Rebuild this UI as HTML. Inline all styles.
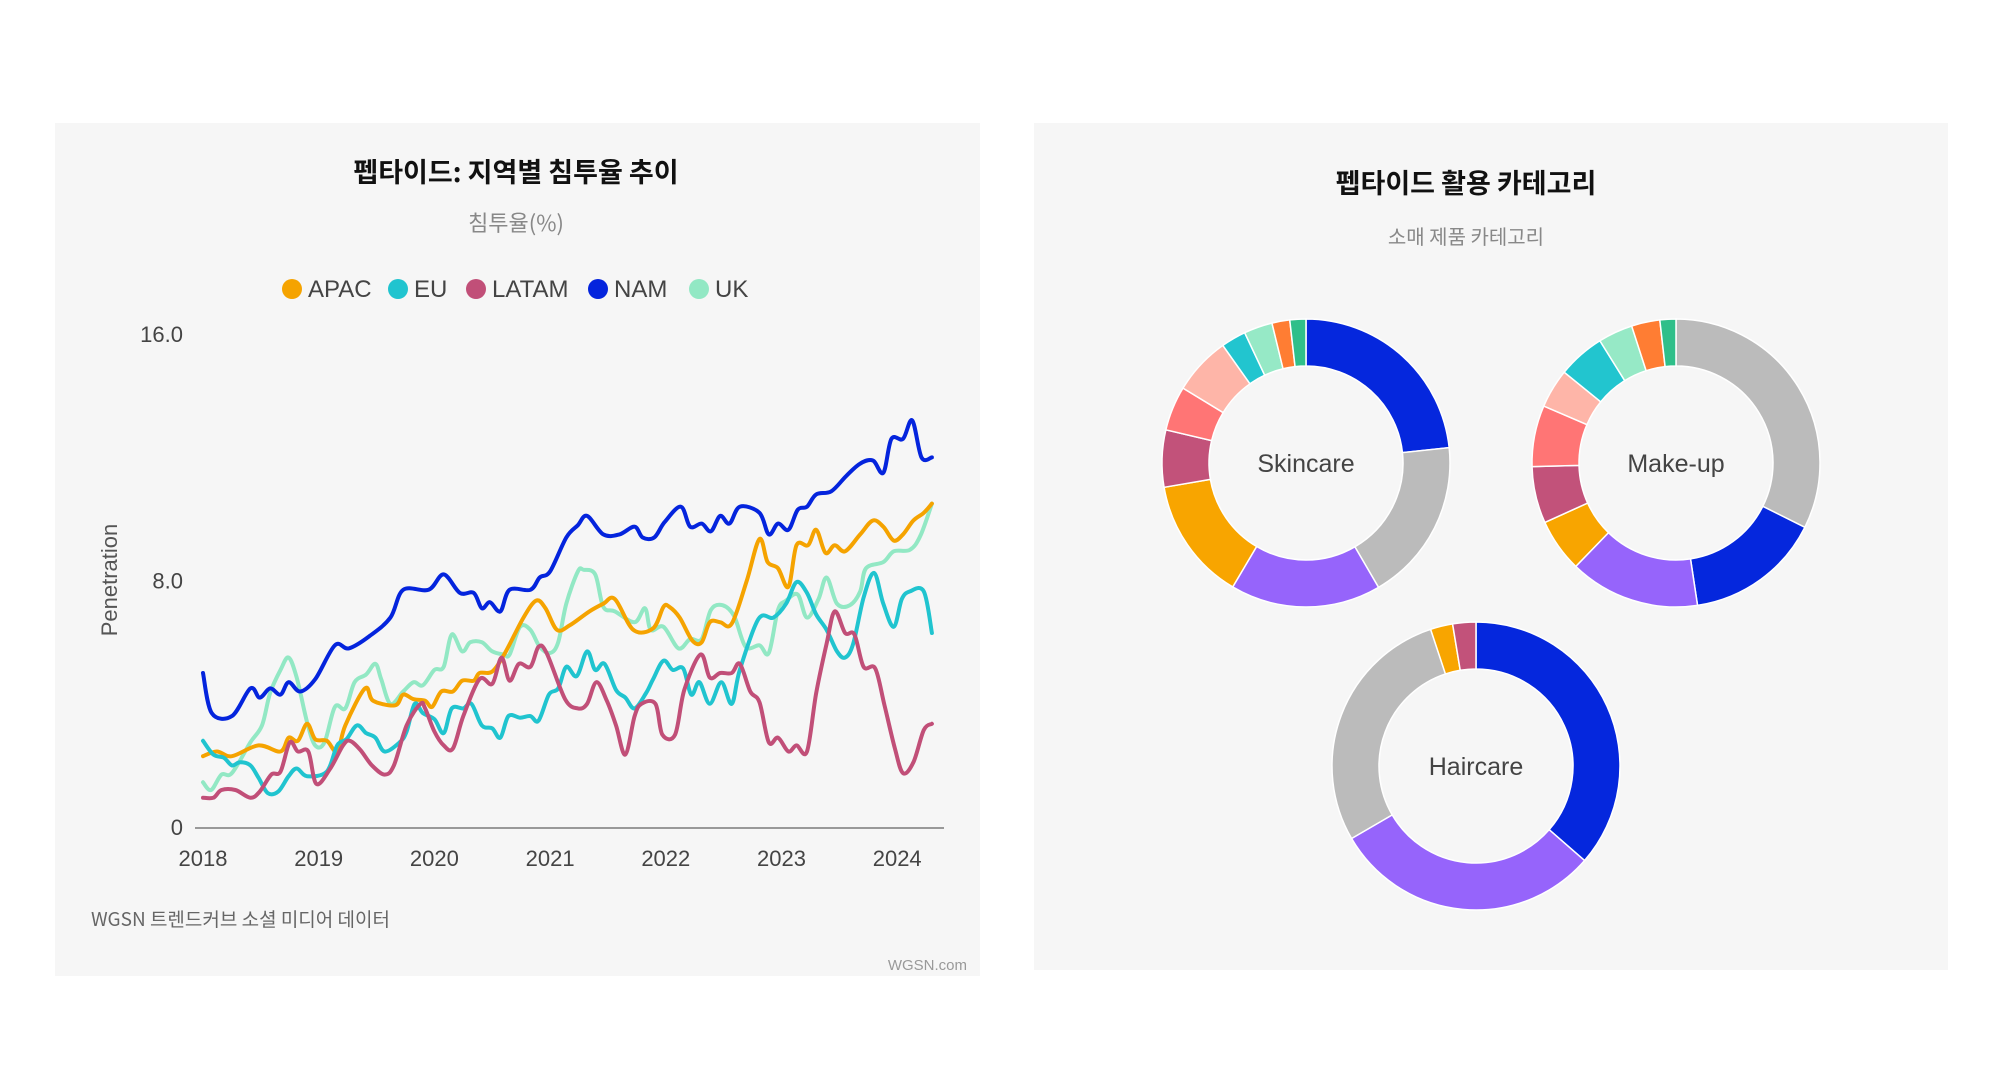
<!DOCTYPE html>
<html><head><meta charset="utf-8"><style>
body{margin:0;width:2006px;height:1072px;background:#fff;overflow:hidden;font-family:"Liberation Sans","Noto Sans CJK KR",sans-serif;}
.panel{position:absolute;background:#f6f6f6;}
</style></head><body>
<div class="panel" style="left:55px;top:123px;width:925px;height:853px;"></div>
<div class="panel" style="left:1034px;top:123px;width:914px;height:847px;"></div>
<svg id="svg" width="2006" height="1072" style="position:absolute;left:0;top:0" font-family="Liberation Sans, Noto Sans CJK KR, sans-serif">
<text x="516" y="182" text-anchor="middle" font-size="27" font-weight="bold" fill="#111" font-family="Noto Sans CJK KR, sans-serif">펩타이드: 지역별 침투율 추이</text>
<text x="516" y="231" text-anchor="middle" font-size="22" fill="#888" font-family="Noto Sans CJK KR, sans-serif">침투율(%)</text>
<g id="legend"></g>
<g id="axes"></g>
<g id="lines"></g>
<text transform="translate(117,580) rotate(-90)" text-anchor="middle" font-size="22" fill="#555">Penetration</text>
<text x="91" y="926" font-size="19" fill="#666" font-family="Noto Sans CJK KR, sans-serif">WGSN 트렌드커브 소셜 미디어 데이터</text>
<text x="967" y="970" text-anchor="end" font-size="15" fill="#999">WGSN.com</text>
<text x="1466" y="193" text-anchor="middle" font-size="27" font-weight="bold" fill="#111" font-family="Noto Sans CJK KR, sans-serif">펩타이드 활용 카테고리</text>
<text x="1466" y="244" text-anchor="middle" font-size="20" fill="#888" font-family="Noto Sans CJK KR, sans-serif">소매 제품 카테고리</text>
<g id="donuts"></g>
</svg>
<script>
const seriesNames=["APAC","EU","LATAM","NAM","UK"];
const seriesColors=["#f5a300","#20c4cf","#c14f78","#0424dd","#92e8c4"];
const yTicks=[0,8,16];
const yTickLabels=["0","8.0","16.0"];
const xTicks=[2018,2019,2020,2021,2022,2023,2024];
const apacT=[2018.0,2018.12,2018.25,2018.48,2018.67,2018.74,2018.82,2018.9,2018.97,2019.07,2019.16,2019.23,2019.4,2019.47,2019.66,2019.73,2019.82,2019.92,2019.98,2020.06,2020.16,2020.24,2020.34,2020.39,2020.5,2020.61,2020.77,2020.88,2020.96,2021.06,2021.17,2021.34,2021.46,2021.56,2021.72,2021.89,2021.98,2022.03,2022.12,2022.23,2022.31,2022.38,2022.47,2022.57,2022.7,2022.81,2022.88,2022.97,2023.06,2023.13,2023.23,2023.3,2023.38,2023.46,2023.55,2023.68,2023.79,2023.88,2023.97,2024.05,2024.14,2024.23,2024.3];
const apacV=[2.3,2.45,2.3,2.65,2.45,2.9,2.8,3.35,2.85,2.8,2.45,3.3,4.5,4.1,3.95,4.3,4.15,4.1,3.9,4.4,4.4,4.75,4.75,5.0,5.05,5.65,6.8,7.35,7.1,6.4,6.55,7.0,7.25,7.4,6.4,6.45,7.15,7.15,6.8,6.05,6.0,6.65,6.65,6.6,8.0,9.35,8.6,8.4,7.8,9.15,9.15,9.65,8.9,9.15,8.95,9.5,9.95,9.75,9.3,9.5,9.95,10.2,10.5];
const euT=[2018.0,2018.09,2018.18,2018.25,2018.32,2018.41,2018.48,2018.56,2018.65,2018.74,2018.81,2018.9,2019.07,2019.16,2019.24,2019.33,2019.41,2019.49,2019.57,2019.7,2019.76,2019.83,2019.9,2020.0,2020.08,2020.15,2020.25,2020.32,2020.41,2020.5,2020.57,2020.64,2020.74,2020.83,2020.9,2020.99,2021.07,2021.14,2021.23,2021.32,2021.39,2021.47,2021.57,2021.65,2021.73,2021.83,2021.89,2021.98,2022.06,2022.15,2022.22,2022.29,2022.38,2022.48,2022.57,2022.64,2022.8,2022.93,2023.04,2023.13,2023.22,2023.3,2023.39,2023.48,2023.55,2023.62,2023.71,2023.8,2023.88,2023.97,2024.04,2024.11,2024.23,2024.3];
const euV=[2.8,2.35,2.25,2.0,2.1,2.0,1.6,1.1,1.15,1.65,1.9,1.65,1.8,2.65,2.85,3.3,3.05,2.9,2.45,2.75,3.1,4.0,3.7,3.5,3.05,3.85,3.85,4.0,3.3,3.2,2.9,3.6,3.55,3.6,3.45,4.3,4.5,5.2,4.9,5.7,5.1,5.3,4.45,4.2,3.85,4.35,4.8,5.4,5.1,5.15,4.3,4.7,4.0,4.7,4.0,5.1,6.75,6.8,7.25,7.95,7.6,6.9,6.4,5.7,5.5,5.95,7.45,8.25,7.25,6.5,7.4,7.65,7.65,6.3];
const latamT=[2018.0,2018.09,2018.16,2018.28,2018.41,2018.49,2018.59,2018.67,2018.75,2018.82,2018.91,2018.98,2019.1,2019.21,2019.27,2019.36,2019.46,2019.57,2019.65,2019.76,2019.88,2019.92,2020.0,2020.08,2020.16,2020.25,2020.39,2020.5,2020.58,2020.65,2020.73,2020.83,2020.9,2020.97,2021.13,2021.24,2021.32,2021.4,2021.49,2021.57,2021.65,2021.73,2021.79,2021.91,2021.97,2022.08,2022.16,2022.3,2022.38,2022.47,2022.57,2022.64,2022.73,2022.81,2022.89,2022.97,2023.06,2023.13,2023.22,2023.3,2023.39,2023.46,2023.55,2023.63,2023.71,2023.81,2023.89,2023.98,2024.05,2024.14,2024.23,2024.3];
const latamV=[0.95,0.95,1.2,1.2,0.95,1.15,1.7,1.8,2.75,2.45,2.45,1.4,1.9,2.65,2.8,2.5,2.0,1.7,2.0,3.3,4.0,3.85,3.1,2.65,2.55,3.6,4.8,4.65,5.5,4.75,5.3,5.2,5.85,5.65,4.15,3.85,4.0,4.7,4.1,3.3,2.35,3.6,4.0,4.0,3.0,3.0,4.45,5.6,4.85,5.0,5.0,5.3,4.4,4.05,2.75,2.9,2.45,2.65,2.45,4.35,5.95,7.0,6.3,6.25,5.2,5.15,3.95,2.55,1.75,2.1,3.15,3.35];
const namT=[2018.0,2018.075,2018.25,2018.41,2018.49,2018.58,2018.67,2018.74,2018.84,2018.97,2019.14,2019.26,2019.44,2019.62,2019.73,2019.95,2020.08,2020.22,2020.34,2020.41,2020.48,2020.57,2020.65,2020.83,2020.91,2021.0,2021.14,2021.24,2021.32,2021.46,2021.6,2021.73,2021.8,2021.9,2021.99,2022.13,2022.21,2022.31,2022.39,2022.47,2022.55,2022.64,2022.81,2022.89,2022.97,2023.06,2023.14,2023.22,2023.3,2023.43,2023.56,2023.68,2023.79,2023.88,2023.95,2024.05,2024.13,2024.21,2024.3];
const namV=[5.0,3.7,3.6,4.5,4.2,4.5,4.3,4.7,4.4,4.8,5.9,5.8,6.2,6.8,7.7,7.7,8.2,7.6,7.6,7.1,7.3,7.0,7.7,7.7,8.1,8.3,9.4,9.8,10.1,9.5,9.5,9.75,9.4,9.4,9.9,10.4,9.75,9.85,9.6,10.1,9.85,10.4,10.2,9.5,9.85,9.65,10.3,10.4,10.8,10.9,11.4,11.8,11.9,11.5,12.6,12.6,13.2,12.0,12.0];
const ukT=[2018.0,2018.07,2018.16,2018.25,2018.41,2018.51,2018.58,2018.67,2018.74,2018.81,2018.9,2018.97,2019.05,2019.14,2019.23,2019.31,2019.41,2019.49,2019.54,2019.62,2019.73,2019.82,2019.9,2020.0,2020.08,2020.15,2020.24,2020.31,2020.41,2020.5,2020.6,2020.65,2020.74,2020.83,2020.91,2021.0,2021.07,2021.14,2021.24,2021.29,2021.39,2021.46,2021.56,2021.73,2021.82,2021.87,2021.98,2022.11,2022.21,2022.31,2022.39,2022.49,2022.59,2022.69,2022.81,2022.89,2022.97,2023.04,2023.14,2023.22,2023.32,2023.39,2023.48,2023.59,2023.68,2023.73,2023.88,2023.97,2024.11,2024.2,2024.3];
const ukV=[1.45,1.2,1.7,1.75,2.75,3.3,4.35,5.1,5.5,4.85,3.4,2.65,2.75,3.9,3.85,4.7,4.95,5.3,4.8,4.0,4.4,4.7,4.6,5.1,5.2,6.25,5.7,6.0,6.0,5.7,5.6,5.6,6.5,6.4,5.85,5.65,6.0,7.25,8.3,8.35,8.2,7.15,7.0,6.65,7.1,6.4,6.5,5.8,6.1,6.1,7.05,7.2,6.85,5.85,5.9,5.65,7.05,7.35,7.55,6.8,7.4,8.1,7.25,7.2,7.65,8.4,8.6,8.95,9.0,9.45,10.5];

const donutLabels=["Skincare","Make-up","Haircare"];
const categoryColors=["#0527dd","#bbbbbb","#9664fb","#f8a500","#c2527a","#ff7575","#feb5a8","#22c5cf","#96e9c6","#ff7d33","#2fbf8a"];
const skincareShares=[23.3,18.3,16.9,13.8,6.4,5.0,6.5,2.8,3.2,2.0,1.8];
const makeupOrder=[1,0,2,3,4,5,6,7,8,9,10];
const makeupShares=[32.5,15.3,14.7,6.0,6.4,6.9,4.4,5.3,3.9,3.2,1.8];
const haircareOrder=[0,2,1,3,4];
const haircareShares=[36.4,30.2,28.3,2.5,2.6];

const NS="http://www.w3.org/2000/svg";
function mk(tag,attrs,parent){const e=document.createElementNS(NS,tag);for(const k in attrs)e.setAttribute(k,attrs[k]);parent.appendChild(e);return e;}
const X0=203,XPY=115.7,Y0=827,YPU=30.8;
const xs=t=>X0+(t-2018)*XPY, ys=v=>Y0-v*YPU;

const legend=document.getElementById('legend');
const legendX=[292,398,476,598,699];
seriesNames.forEach((n,i)=>{
  const g=mk('g',{},legend);
  
  
  mk('circle',{cx:legendX[i],cy:289,r:10,fill:seriesColors[i]},g);
  const t=mk('text',{x:legendX[i]+16,y:297,'font-size':24,fill:'#444'},g);
  t.textContent=n;
});
const axes=document.getElementById('axes');
const base=mk('line',{x1:195,x2:944,y1:Y0+1,y2:Y0+1,stroke:'#999','stroke-width':2},axes);


yTicks.forEach((v,i)=>{
  const t=mk('text',{x:183,y:ys(v)+8,'text-anchor':'end','font-size':22,fill:'#444'},axes);
  
  
  t.textContent=yTickLabels[i];
});
xTicks.forEach(y=>{
  const t=mk('text',{x:xs(y),y:866,'text-anchor':'middle','font-size':22,fill:'#444'},axes);
  
  
  t.textContent=String(y);
});
function smooth(pts){
  let d='M'+pts[0][0].toFixed(1)+','+pts[0][1].toFixed(1);
  for(let i=0;i<pts.length-1;i++){
    const p0=pts[Math.max(0,i-1)],p1=pts[i],p2=pts[i+1],p3=pts[Math.min(pts.length-1,i+2)];
    const k=1/6;
    const c1=[p1[0]+(p2[0]-p0[0])*k,p1[1]+(p2[1]-p0[1])*k];
    const c2=[p2[0]-(p3[0]-p1[0])*k,p2[1]-(p3[1]-p1[1])*k];
    d+='C'+c1.map(n=>n.toFixed(1))+' '+c2.map(n=>n.toFixed(1))+' '+p2[0].toFixed(1)+','+p2[1].toFixed(1);
  }
  return d;
}
const lines=document.getElementById('lines');
const allT=[apacT,euT,latamT,namT,ukT], allV=[apacV,euV,latamV,namV,ukV];
const drawOrder=[4,0,1,2,3];
drawOrder.forEach(i=>{
  const pts=allT[i].map((t,j)=>[xs(t),ys(allV[i][j])]);
  const p=mk('path',{d:smooth(pts),fill:'none',stroke:seriesColors[i],'stroke-width':4,'stroke-linejoin':'round','stroke-linecap':'round'},lines);
  
  
});
const donuts=document.getElementById('donuts');
function donut(cx,cy,R,r,shares,order,label){
  const g=mk('g',{},donuts);
  
  
  const total=shares.reduce((a,b)=>a+b,0);
  let a0=0;
  shares.forEach((s,i)=>{
    const a1=a0+s/total*Math.PI*2;
    const P=(a,rr)=>[cx+rr*Math.sin(a),cy-rr*Math.cos(a)];
    const [x1,y1]=P(a0,R),[x2,y2]=P(a1,R),[x3,y3]=P(a1,r),[x4,y4]=P(a0,r);
    const lg=(a1-a0)>Math.PI?1:0;
    const p=mk('path',{d:`M${x1},${y1}A${R},${R} 0 ${lg} 1 ${x2},${y2}L${x3},${y3}A${r},${r} 0 ${lg} 0 ${x4},${y4}Z`,fill:categoryColors[order[i]],stroke:'#fff','stroke-width':1.5},g);
    
    
    a0=a1;
  });
  const t=mk('text',{x:cx,y:cy+9,'text-anchor':'middle','font-size':25,fill:'#444'},g);
  
  
  t.textContent=label;
}
donut(1306,463,144,97,skincareShares,[0,1,2,3,4,5,6,7,8,9,10],donutLabels[0]);
donut(1676,463,144,97,makeupShares,makeupOrder,donutLabels[1]);
donut(1476,766,144,97,haircareShares,haircareOrder,donutLabels[2]);
</script>
</body></html>
